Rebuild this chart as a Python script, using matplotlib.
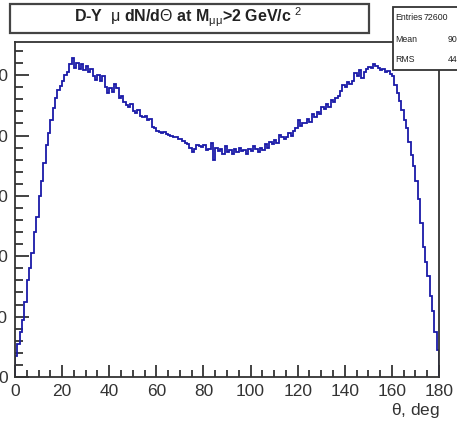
import matplotlib
matplotlib.use("Agg")
import matplotlib.pyplot as plt
from matplotlib.patches import Rectangle
import numpy as np

plt.rcParams['font.family'] = ['Liberation Sans', 'DejaVu Sans']
plt.rcParams['mathtext.fontset'] = 'custom'
plt.rcParams['mathtext.rm'] = 'Liberation Sans'
plt.rcParams['mathtext.it'] = 'Liberation Sans'
plt.rcParams['mathtext.bf'] = 'Liberation Sans:bold'

# ---- data: counts per 1-degree bin, theta 0..180 ----
bin_edges = list(range(0, 181))
counts = [
    35, 55, 75, 95, 125, 160, 180, 205, 240, 265,
    300, 325, 355, 385, 405, 425, 445, 462, 475, 482,
    490, 500, 505, 518, 528, 512, 520, 510, 518, 508,
    515, 505, 510, 498, 492, 500, 490, 498, 480, 470,
    478, 472, 485, 478, 462, 465, 455, 450, 447, 452,
    440, 438, 442, 432, 430, 433, 426, 428, 414, 412,
    408, 406, 404, 406, 402, 401, 400, 397, 398, 394,
    395, 391, 388, 386, 380, 372, 378, 385, 383, 381,
    384, 376, 378, 388, 360, 380, 374, 378, 370, 382,
    372, 376, 370, 378, 372, 380, 374, 376, 370, 378,
    374, 382, 378, 372, 380, 376, 386, 380, 390, 386,
    392, 388, 401, 398, 394, 398, 404, 400, 407, 412,
    426, 416, 420, 421, 428, 422, 436, 430, 439, 436,
    448, 444, 452, 448, 459, 456, 462, 466, 474, 484,
    480, 488, 486, 490, 503, 498, 508, 495, 506, 510,
    514, 512, 518, 516, 512, 508, 510, 505, 507, 502,
    498, 484, 470, 458, 442, 425, 412, 390, 368, 350,
    325, 295, 255, 215, 190, 168, 135, 110, 75, 45,
]
x_ticks = [0, 20, 40, 60, 80, 100, 120, 140, 160, 180]
y_ticks = [0, 100, 200, 300, 400, 500]
title_text = r"D-Y  $\mu$ dN/d$\Theta$ at M$_{\mu\mu}$>2 GeV/c $^{2}$"
x_label = r"$\theta$, deg"
stats_names = ["Entries", "Mean", "RMS"]
stats_values = ["72600", "90.12", "44.35"]

W, H = 457, 425
fig = plt.figure(figsize=(W / 100, H / 100), dpi=100)

def fx(px):
    return px / W

def fy(py):
    return 1 - py / H

ax_l, ax_r, ax_t, ax_b = 15, 439, 42, 377
ax = fig.add_axes([fx(ax_l), fy(ax_b), (ax_r - ax_l) / W, (ax_b - ax_t) / H])

line_col = '#1a1aa8'
# histogram outline (ROOT style: starts and ends on the baseline)
xs = np.repeat(np.asarray(bin_edges, dtype=float), 2)
ys = np.concatenate([[0.0], np.repeat(np.asarray(counts, dtype=float), 2), [0.0]])
ax.plot(xs, ys, color=line_col, lw=1.3, solid_joinstyle='miter')
ax.set_xlim(0, 180)
ax.set_ylim(0, 555)

ax.set_xticks(x_ticks)
ax.set_xticklabels([str(v) for v in x_ticks])
ax.set_xticks(np.arange(0, 181, 5), minor=True)
ax.set_yticks(y_ticks)
ax.set_yticklabels([str(v) for v in y_ticks])
ax.set_yticks(np.arange(0, 555, 20), minor=True)

ax.tick_params(axis='both', which='both', direction='in', top=False, right=False,
               colors='#222222', labelcolor='#333333')
ax.tick_params(axis='y', which='major', length=10, width=1.2, pad=5, labelsize=12.5)
ax.tick_params(axis='y', which='minor', length=6, width=1.2)
ax.tick_params(axis='x', which='major', length=9, width=1.2, pad=5, labelsize=12.5)
ax.tick_params(axis='x', which='minor', length=5, width=1.2)
for s in ax.spines.values():
    s.set_color('#333333')
    s.set_linewidth(1.3)

fig.text(fx(440), fy(411), x_label, ha='right', va='center', fontsize=12.5, color='#333333')

# title box
fig.patches.append(Rectangle((fx(10), fy(33)), fx(359), 29 / H, transform=fig.transFigure,
                             facecolor='white', edgecolor='#444444', lw=1.6, zorder=5))
fig.text(fx(188), fy(17), title_text, ha='center', va='center', fontsize=11.5,
         fontweight='bold', color='#222222', zorder=6)

# stats box (partially outside the figure)
fig.patches.append(Rectangle((fx(393), fy(70)), fx(80), 63 / H, transform=fig.transFigure,
                             facecolor='white', edgecolor='#333333', lw=1.3, zorder=5))
for i, (n, v) in enumerate(zip(stats_names, stats_values)):
    yy = 18 + i * 21
    fig.text(fx(395), fy(yy), n, ha='left', va='center', fontsize=6.3, color='#222222', zorder=6)
    fig.text(fx(424 if i == 0 else 448), fy(yy), v, ha='left', va='center', fontsize=6.3,
             color='#222222', zorder=6)

fig.savefig('out.png', dpi=100)
